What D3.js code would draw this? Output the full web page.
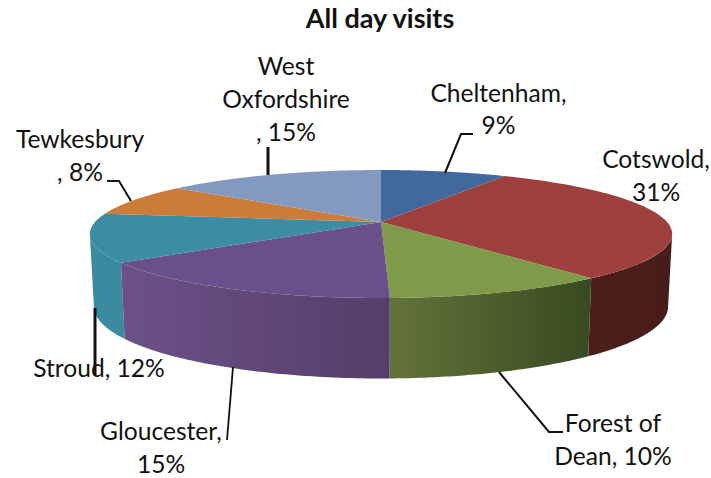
<!DOCTYPE html>
<html><head><meta charset="utf-8">
<script src="https://cdnjs.cloudflare.com/ajax/libs/d3/7.9.0/d3.min.js"></script>
<style>html,body{margin:0;padding:0;background:#fff}svg{display:block}text{font-family:Lato,"Open Sans",sans-serif;fill:#111}</style>
</head><body>
<svg id="c" width="711" height="478"></svg>
<script>
const title = "All day visits";
const categories = ["Cheltenham","Cotswold","Forest of Dean","Gloucester","Stroud","Tewkesbury","West Oxfordshire"];
const values = [8.4,30.8,10.4,15.4,12.2,8.2,14.6];
const percentLabels = ["9%","31%","10%","15%","12%","8%","15%"];
const topColors = ["#41699e","#9e413e","#7f9a48","#69508a","#3c8da3","#cc7b38","#8499c0"];
const wallLeft  = ["#41699e","#4c1f1c","#63733a","#6c5188","#3a8aa0","#cc7b38","#8499c0"];
const wallRight = ["#41699e","#481c19","#384a20","#553e69","#3a8aa0","#cc7b38","#8499c0"];

const svg = d3.select("#c");
const defs = svg.append("defs");
const P = 0.1875;
const px = d3.scaleLinear().domain([-1,1]).range([381-286,381+286]);
const py = d3.scaleLinear().domain([-1,1]).range([222+61.75,222-61.75]);
const top3 = a => {
  const s = 1/(1+P*Math.cos(a));
  return [px(Math.sin(a)*s), py(Math.cos(a)*s), s];
};
const bot3 = a => {
  const [x,y,s] = top3(a);
  return [381+(x-381)*0.986, y+30+41*s];
};
const slices = d3.pie().sort(null).value(d=>d)(values);
const line = d3.line();
const arcPts = (a0,a1,f) => d3.range(0,61).map(i=>f(a0+(a1-a0)*i/60));

// the rim is widest where cos(angle) = -P, so the wall runs between those two angles
const wallA = Math.acos(-P), wallB = 2*Math.PI-Math.acos(-P);
const walls = slices.map((d,i)=>({i,a0:Math.max(d.startAngle,wallA),a1:Math.min(d.endAngle,wallB)})).filter(w=>w.a1>w.a0);
walls.sort((p,q)=>Math.abs((q.a0+q.a1)/2-Math.PI)-Math.abs((p.a0+p.a1)/2-Math.PI));
walls.forEach(w=>{
  const t = arcPts(w.a0,w.a1,top3), b = arcPts(w.a0,w.a1,bot3);
  const xs = t.map(p=>p[0]);
  const gid = "g"+w.i;
  const g = defs.append("linearGradient").attr("id",gid).attr("gradientUnits","userSpaceOnUse")
    .attr("x1",d3.min(xs)).attr("x2",d3.max(xs)).attr("y1",0).attr("y2",0);
  g.append("stop").attr("offset",0).attr("stop-color",wallLeft[w.i]);
  g.append("stop").attr("offset",1).attr("stop-color",wallRight[w.i]);
  svg.append("path").attr("d",line(t.map(p=>[p[0],p[1]]).concat(b.reverse()))+"Z").attr("fill",`url(#${gid})`);
});
slices.forEach((d,i)=>{
  const pts = [[381,222]].concat(arcPts(d.startAngle,d.endAngle,top3).map(p=>[p[0],p[1]]));
  svg.append("path").attr("d",line(pts)+"Z").attr("fill",topColors[i]);
});

// leader lines
const leaders = [
  {w:3,p:[[268,147],[268,175]]},
  {w:2,p:[[473,134],[461,134],[445,173]]},
  {w:2,p:[[107,181],[119,181],[131,201]]},
  {w:2,p:[[499,372],[549,432],[563,432]]},
  {w:1.8,p:[[233,367],[227,440]]},
  {w:3,p:[[95,308],[95,375]]}
];
svg.selectAll("path.leader").data(leaders).join("path").attr("class","leader")
  .attr("d",d=>line(d.p)).attr("fill","none").attr("stroke","#111").attr("stroke-width",d=>d.w);

const FS = 24.6;
const labelLines = [
  [categories[0]+",",percentLabels[0]],
  ["Cotswold,",percentLabels[1]],
  ["Forest of","Dean, "+percentLabels[2]],
  [categories[3]+",",percentLabels[3]],
  ["Stroud, "+percentLabels[4]],
  [categories[5],", "+percentLabels[5]],
  ["West","Oxfordshire",", "+percentLabels[6]]
];
const labelPos = [[498.5,102,32],[656,168,33],[613,432,33],[161,440,33],[99,377,0],[80,148,33],[286,75,33]];
labelLines.forEach((ls,i)=>{
  const [x,y,dy]=labelPos[i];
  ls.forEach((t,j)=>svg.append("text").attr("x",x).attr("y",y+j*dy).attr("text-anchor","middle").attr("font-size",FS).text(t));
});
svg.append("text").attr("x",380).attr("y",28).attr("text-anchor","middle").attr("font-size",27).attr("font-weight",700).text(title);
</script>
</body></html>
